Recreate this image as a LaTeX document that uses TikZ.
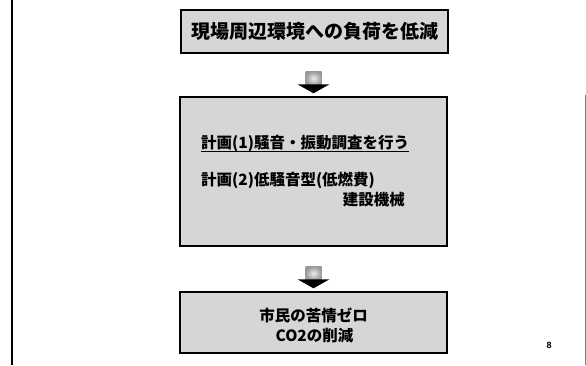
\documentclass[tikz,border=0pt]{standalone}
\usepackage{fontspec}
\newfontfamily\cjk{Noto Sans CJK JP}
\setmainfont{Liberation Sans}
\usetikzlibrary{calc}
\begin{document}
\begin{tikzpicture}[x=1pt,y=-1pt,
  box/.style={draw=black, line width=1.4pt, fill=black!16, rectangle, inner sep=0pt, minimum width=267pt},
  jp/.style={font=\cjk\bfseries\fontsize{15.5}{22}\selectfont, inner sep=0pt},
  shaft/.style={inner color=gray!15, outer color=gray!80},
  head/.style={fill=black}]
\useasboundingbox (0,0) rectangle (586,365);
\fill[white] (0,0) rectangle (586,365);
% page borders
\draw[line width=2.5pt] (12,0) -- (12,365);
\draw[gray, line width=0.8pt] (585,95) -- (585,365);
% boxes
\node[box, minimum height=43pt, font=\cjk\bfseries\fontsize{19}{22}\selectfont] (b1) at (314.5,31.5) {現場周辺環境への負荷を低減};
\node[box, minimum height=149pt] (b2) at (313.5,171.5) {};
\node[box, minimum height=61pt] (b3) at (313.5,322.5) {};
% box 2 text
\node[jp, anchor=west] (t1) at (201,143) {計画(1)騒音・振動調査を行う};
\draw[line width=1pt] ($(t1.base west)+(0,3)$) -- ($(t1.base east)+(0,3)$);
\node[jp, anchor=west] (t2) at (201,180) {計画(2)低騒音型(低燃費)};
\node[jp, anchor=east] (t3) at (405,200) {建設機械};
% box 3 text
\node[jp] (t4) at (313.5,315) {市民の苦情ゼロ};
\node[jp] (t5) at (314.5,336) {CO2の削減};
% arrows
\coordinate (a1) at ($(b2.north)+(0,-3)$);
\shade[shaft] ($(a1)+(-8,-22)$) rectangle ($(a1)+(8,-8)$);
\fill[head] ($(a1)+(-16,-9)$) -- ($(a1)+(16,-9)$) -- (a1) -- cycle;
\coordinate (a2) at ($(b3.north)+(0,-3)$);
\shade[shaft] ($(a2)+(-8,-22)$) rectangle ($(a2)+(8,-8)$);
\fill[head] ($(a2)+(-16,-9)$) -- ($(a2)+(16,-9)$) -- (a2) -- cycle;
% page number
\node[font=\bfseries\fontsize{9}{10}\selectfont, inner sep=0pt] (pn) at (549,345) {8};
\end{tikzpicture}
\end{document}
